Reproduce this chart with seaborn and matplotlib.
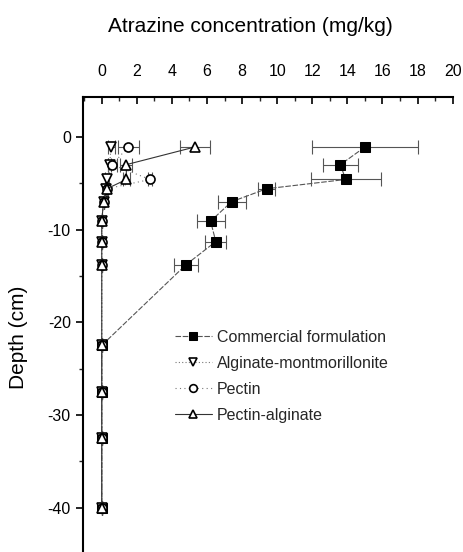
import numpy as np
import pandas as pd
import matplotlib
matplotlib.use("Agg")
import matplotlib.pyplot as plt
import seaborn as sns
from matplotlib.ticker import MultipleLocator

# ---- data ----
depth = [-1.1, -3.0, -4.6, -5.6, -7.0, -9.1, -11.3, -13.8, -22.5, -27.5, -32.5, -40.0]

commercial = [15.0, 13.6, 13.9, 9.4, 7.4, 6.2, 6.5, 4.8, 0.0, 0.0, 0.0, 0.0]
commercial_err = [3.0, 1.0, 2.0, 0.5, 0.8, 0.8, 0.6, 0.7, 0.0, 0.0, 0.0, 0.0]

alg_mont = [0.53, 0.45, 0.3, 0.25, 0.1, 0.0, 0.0, 0.0, 0.0, 0.0, 0.0, 0.0]
alg_mont_err = [0.2, 0.1, 0.1, 0.05, 0.0, 0.0, 0.0, 0.0, 0.0, 0.0, 0.0, 0.0]

pectin = [1.5, 0.6, 2.75, 0.3, 0.1, 0.0, 0.0, 0.0, 0.0, 0.0, 0.0, 0.0]
pectin_err = [0.6, 0.25, 0.1, 0.05, 0.0, 0.0, 0.0, 0.0, 0.0, 0.0, 0.0, 0.0]

pec_alg = [5.3, 1.4, 1.4, 0.3, 0.1, 0.0, 0.0, 0.0, 0.0, 0.0, 0.0, 0.0]
pec_alg_err = [0.85, 0.35, 0.2, 0.05, 0.0, 0.0, 0.0, 0.0, 0.0, 0.0, 0.0, 0.0]

labels = ["Commercial formulation", "Alginate-montmorillonite", "Pectin", "Pectin-alginate"]
xticks = [0, 2, 4, 6, 8, 10, 12, 14, 16, 18, 20]
yticks = [0, -10, -20, -30, -40]

sns.set_theme(style="ticks")
plt.rcParams['font.family'] = ['Liberation Sans', 'DejaVu Sans']

fig = plt.figure(figsize=(4.63, 5.52), dpi=100)
ax = fig.add_axes([0.18, 0.0, 0.9777 - 0.18, 0.8243])

series = [
    (commercial, commercial_err, dict(marker='s', markersize=6.5, markerfacecolor='black',
                                       markeredgecolor='black', color='#555555',
                                       linestyle=(0, (5, 1.5)), linewidth=0.8)),
    (alg_mont, alg_mont_err, dict(marker='v', markersize=7, markerfacecolor='white',
                                   markeredgecolor='black', markeredgewidth=1.2, color='#777777',
                                   linestyle=(0, (1, 2)), linewidth=0.8)),
    (pectin, pectin_err, dict(marker='o', markersize=6.5, markerfacecolor='white',
                               markeredgecolor='black', markeredgewidth=1.2, color='#777777',
                               linestyle=(0, (1, 3)), linewidth=0.8)),
    (pec_alg, pec_alg_err, dict(marker='^', markersize=7, markerfacecolor='white',
                                 markeredgecolor='black', markeredgewidth=1.2, color='#333333',
                                 linestyle='-', linewidth=0.8)),
]

for (vals, errs, style), lab in zip(series, labels):
    df = pd.DataFrame({"conc": vals, "depth": depth})
    ax.errorbar(vals, depth, xerr=errs, fmt='none', ecolor='#555555', elinewidth=0.8,
                capsize=5, capthick=0.8, zorder=2)
    sns.lineplot(data=df, x="conc", y="depth", sort=False, estimator=None, ax=ax,
                 label=lab, zorder=3, **style)

ax.set_xlim(-1.05, 20.0)
ax.set_ylim(-44.8, 4.3)
ax.xaxis.set_ticks_position('top')
ax.xaxis.set_label_position('top')
ax.set_xticks(xticks)
ax.set_xticklabels([str(t) for t in xticks])
ax.xaxis.set_minor_locator(MultipleLocator(1))
ax.set_yticks(yticks)
ax.set_yticklabels([str(t) for t in yticks])
ax.yaxis.set_minor_locator(MultipleLocator(5))

for s in ['right', 'bottom']:
    ax.spines[s].set_visible(False)
for s in ['left', 'top']:
    ax.spines[s].set_linewidth(1.5)
    ax.spines[s].set_color('black')

ax.tick_params(axis='x', which='major', direction='in', length=5, width=1.2,
               labelsize=11.5, pad=13, colors='black')
ax.tick_params(axis='x', which='minor', direction='in', length=3, width=1.0)
ax.tick_params(axis='y', which='major', direction='out', length=5, width=1.2,
               labelsize=11.5, pad=4, colors='black')
ax.tick_params(axis='y', which='minor', direction='out', length=3, width=1.0)

ax.set_xlabel("Atrazine concentration (mg/kg)", fontsize=15, color='black')
ax.set_ylabel("Depth (cm)", fontsize=15, color='black')
ax.xaxis.set_label_coords(0.452, 1.142)
ax.yaxis.set_label_coords(-0.15, 0.4725)

handles, labs = ax.get_legend_handles_labels()
leg = ax.legend(handles, labs, loc='upper left', bbox_to_anchor=(175 / 463, 1 - 330 / 552),
                bbox_transform=fig.transFigure, frameon=False, fontsize=11.5,
                handlelength=2.3, handletextpad=0.3, labelspacing=0.68,
                borderpad=0, borderaxespad=0, markerscale=0.85)

fig.savefig("out.png", dpi=100)
